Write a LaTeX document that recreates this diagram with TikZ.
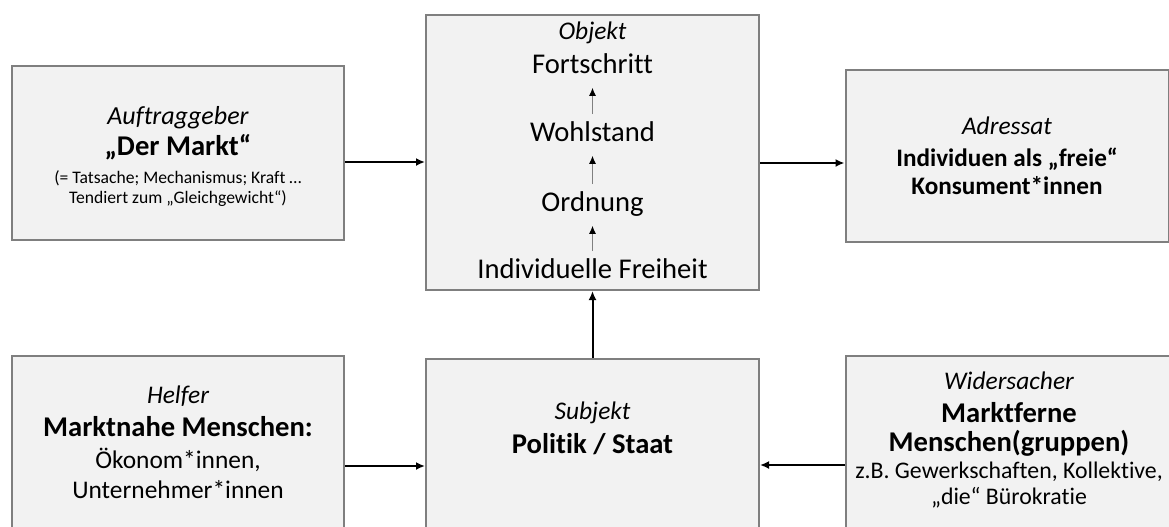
\documentclass[tikz,border=0pt]{standalone}
\usepackage{fontspec}
\setmainfont{Carlito}[Ligatures=NoCommon]
\usetikzlibrary{arrows.meta}

\definecolor{boxfill}{HTML}{F2F2F2}
\definecolor{boxline}{HTML}{7F7F7F}

\tikzset{
  actant/.style={draw=boxline, line width=1pt, fill=boxfill, rectangle, inner sep=0pt},
  txt/.style={inner sep=0pt, text height=.64em, text depth=0pt, anchor=center},
  role/.style={txt, font=\fontsize{12.7}{15}\selectfont\itshape},
  link/.style={line width=1pt, -{Latex[length=4.5pt,width=4pt]}},
  up/.style={draw=gray, line width=.5pt, -{Latex[black,length=4pt,width=3.5pt]},
    shorten <=7pt, shorten >=7pt}
}

\begin{document}
\begin{tikzpicture}[x=0.5pt,y=-0.5pt]
\useasboundingbox (0,0) rectangle (1169,526);
\clip (0,0) rectangle (1169,526);

% Boxes
\node [actant, minimum width=166pt, minimum height=87pt] (markt) at (178,153) {};
\node [actant, minimum width=166.5pt, minimum height=137.5pt] (objekt) at (592.5,152.5) {};
\node [actant, minimum width=161.5pt, minimum height=86pt] (adressat) at (1007,156) {};

\node [actant, minimum width=166pt, minimum height=122pt] (helfer) at (178,478) {};
\node [actant, minimum width=166.5pt, minimum height=120.5pt] (subjekt) at (592.5,479.5) {};
\node [actant, minimum width=172pt, minimum height=122pt] (gegner) at (1018,478) {};

% Auftraggeber
\node [role, font=\fontsize{13}{15}\selectfont\itshape] (auftrag) at (178,118) {Auftraggeber};
\node [txt, font=\fontsize{14.3}{17}\selectfont\bfseries] (markttitel) at (178,149) {„Der Markt“};
\node [txt, font=\fontsize{8.8}{10}\selectfont] (marktA) at (178,177) {(= Tatsache; Mechanismus; Kraft …};
\node [txt, font=\fontsize{8.8}{10}\selectfont] (marktB) at (178,197) {Tendiert zum „Gleichgewicht“)};

% Objekt
\node [role] (objtitel) at (592.5,33) {Objekt};
\node [txt, font=\fontsize{14.3}{17}\selectfont] (fort) at (592.5,67) {Fortschritt};
\node [txt, font=\fontsize{14.3}{17}\selectfont] (wohl) at (592.5,135) {Wohlstand};
\node [txt, font=\fontsize{14.3}{17}\selectfont] (ordn) at (592.5,205) {Ordnung};
\node [txt, font=\fontsize{14.3}{17}\selectfont] (frei) at (592.5,272) {Individuelle Freiheit};

\draw [up] (wohl.north) -- (fort.south);
\draw [up] (ordn.north) -- (wohl.south);
\draw [up] (frei.north) -- (ordn.south);

% Adressat
\node [role] (adrtitel) at (1007,128) {Adressat};
\node [txt, font=\fontsize{12.6}{15}\selectfont\bfseries] (adrA) at (1007,160) {Individuen als „freie“};
\node [txt, font=\fontsize{12.6}{15}\selectfont\bfseries] (adrB) at (1007,188) {Konsument*innen};

% Helfer
\node [role] (helftitel) at (178,397) {Helfer};
\node [txt, font=\fontsize{14.3}{17}\selectfont\bfseries] (helfA) at (178,430) {Marktnahe Menschen:};
\node [txt, font=\fontsize{12.7}{15}\selectfont] (helfB) at (178,462) {Ökonom*innen,};
\node [txt, font=\fontsize{12.7}{15}\selectfont] (helfC) at (178,492) {Unternehmer*innen};

% Subjekt
\node [role] (subtitel) at (592.5,413) {Subjekt};
\node [txt, font=\fontsize{14.3}{17}\selectfont\bfseries] (subA) at (592.5,447) {Politik / Staat};

% Widersacher
\node [role] (gegtitel) at (1009,383) {Widersacher};
\node [txt, font=\fontsize{14.3}{17}\selectfont\bfseries] (gegA) at (1009,416) {Marktferne};
\node [txt, font=\fontsize{14.3}{17}\selectfont\bfseries] (gegB) at (1009,445) {Menschen(gruppen)};
\node [txt, font=\fontsize{11.9}{14}\selectfont] (gegC) at (1009,472) {z.B. Gewerkschaften, Kollektive,};
\node [txt, font=\fontsize{11.9}{14}\selectfont] (gegD) at (1009,498) {„die“ Bürokratie};

% Connectors
\draw [link] (markt.east |- 0,162) -- (objekt.west |- 0,162);
\draw [link] (objekt.east |- 0,163) -- (adressat.west |- 0,163);
\draw [link] (subjekt.north) -- (objekt.south);
\draw [link] (helfer.east |- 0,466) -- (subjekt.west |- 0,466);
\draw [link] (gegner.west |- 0,465) -- (subjekt.east |- 0,465);
\end{tikzpicture}
\end{document}
